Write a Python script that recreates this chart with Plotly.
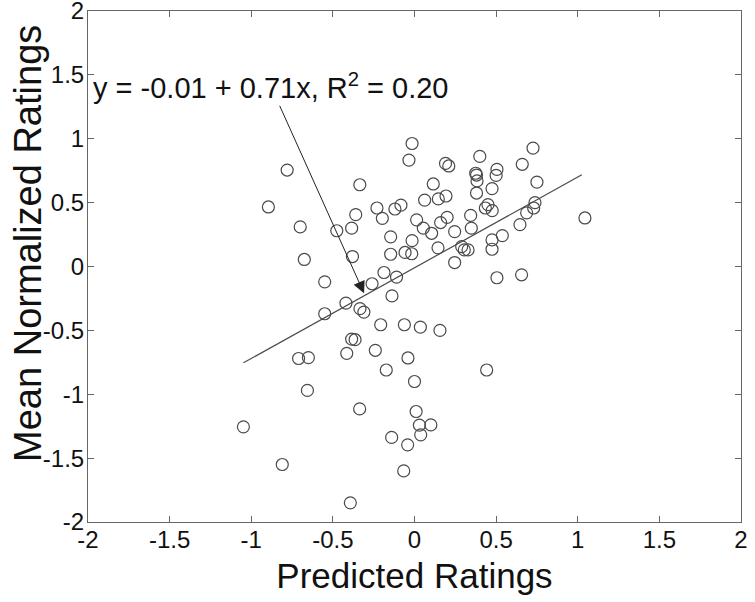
import plotly.graph_objects as go

# ── DATA ─────────────────────────────────────────────────────────────────────
predicted = [
    -0.78, -0.895, -0.70, -0.675, -0.55, -0.335, -0.36, -0.385, -0.476, -0.38,
    -0.42, -0.334, -0.31, -0.55, -0.26, -0.187, -0.11, -0.138, -0.23, -0.197,
    -0.12, -0.083, -0.146, -0.146, -0.058, -0.017, -0.015, 0.013, -0.015, -0.034,
    0.19, 0.21, 0.40, 0.726, 0.66, 0.75, 0.375, 0.38, 0.383, 0.505,
    0.50, 0.475, 0.38, 0.115, 0.062, 0.146, 0.193, 0.054, 0.105, 0.16,
    0.20, 0.246, 0.344, 0.348, 0.434, 0.45, 0.476, 0.687, 0.738, 0.73,
    0.646, 0.538, 0.475, 0.475, 0.289, 0.305, 0.328, 0.144, 0.246, 0.505,
    0.656, 1.044,
    -0.207, -0.062, 0.036, 0.156, -0.385, -0.364, -0.71, -0.65,
    -0.415, -0.24, -0.04, -0.173, 0.0, -0.656, -0.336, 0.01, -1.048, -0.14,
    -0.042, 0.03, 0.10, 0.038, -0.81, -0.066, -0.393, 0.442,
]
mean_normalized = [
    0.755, 0.466, 0.31, 0.055, -0.12, 0.64, 0.406, 0.30, 0.28, 0.078,
    -0.287, -0.33, -0.357, -0.37, -0.135, -0.047, -0.083, -0.23, 0.458, 0.377,
    0.45, 0.48, 0.232, 0.096, 0.11, 0.10, 0.203, 0.365, 0.963, 0.833,
    0.807, 0.787, 0.862, 0.927, 0.80, 0.66, 0.73, 0.716, 0.67, 0.76,
    0.713, 0.61, 0.575, 0.646, 0.52, 0.529, 0.552, 0.30, 0.26, 0.344,
    0.385, 0.273, 0.40, 0.30, 0.458, 0.484, 0.4375, 0.42, 0.50, 0.458,
    0.328, 0.242, 0.208, 0.135, 0.156, 0.13, 0.13, 0.146, 0.031, -0.088,
    -0.065, 0.38,
    -0.456, -0.456, -0.475, -0.50, -0.568, -0.573, -0.72, -0.713,
    -0.68, -0.656, -0.716, -0.81, -0.90, -0.97, -1.115, -1.135, -1.255, -1.338,
    -1.396, -1.242, -1.24, -1.318, -1.55, -1.60, -1.85, -0.81,
]

intercept = -0.01
slope = 0.71
fit_x = [-1.048, 1.025]
fit_y = [intercept + slope * x for x in fit_x]

tick_vals = [-2, -1.5, -1, -0.5, 0, 0.5, 1, 1.5, 2]
tick_text = ["-2", "-1.5", "-1", "-0.5", "0", "0.5", "1", "1.5", "2"]

FONT = "Liberation Sans, Arial, sans-serif"

fig = go.Figure()
fig.add_trace(go.Scatter(
    x=predicted, y=mean_normalized, mode="markers",
    marker=dict(symbol="circle-open", size=12, color="#4a4a4a",
                line=dict(width=1.2, color="#4a4a4a")),
    showlegend=False,
))
fig.add_trace(go.Scatter(
    x=fit_x, y=fit_y, mode="lines",
    line=dict(color="#4a4a4a", width=1.2),
    showlegend=False,
))

# arrow from equation text to the fit line
fig.add_annotation(
    x=-0.309, y=-0.21, ax=-0.83, ay=1.27,
    xref="x", yref="y", axref="x", ayref="y",
    text="", showarrow=True, arrowhead=2, arrowsize=2.4,
    arrowwidth=1, arrowcolor="#222",
)
fig.add_annotation(
    x=-1.98, y=1.41, xref="x", yref="y",
    text="y = -0.01 + 0.71x, R<sup>2</sup> = 0.20",
    showarrow=False, xanchor="left", yanchor="middle",
    font=dict(family=FONT, size=29, color="#111"),
)

# y axis title as rotated annotation (placed like the reference)
fig.add_annotation(
    x=-0.092, y=0.546, xref="paper", yref="paper",
    text="Mean Normalized Ratings", textangle=-90,
    showarrow=False, xanchor="center", yanchor="middle",
    font=dict(family=FONT, size=38, color="#111"),
)

axis_common = dict(
    range=[-2, 2], tickvals=tick_vals, ticktext=tick_text,
    showgrid=False, zeroline=False, showline=True, linecolor="#666",
    linewidth=1, mirror="ticks", ticks="inside", ticklen=6,
    tickcolor="#666", tickfont=dict(family=FONT, size=24, color="#111"),
    automargin=False, ticklabeloverflow="allow",
)

fig.update_xaxes(
    **axis_common, ticklabelstandoff=-4,
    title=dict(text="Predicted Ratings", font=dict(family=FONT, size=35, color="#111"),
               standoff=11),
)
fig.update_yaxes(**axis_common, ticklabelstandoff=-2)

fig.update_layout(
    width=755, height=602,
    paper_bgcolor="white", plot_bgcolor="white",
    margin=dict(l=88, r=14, t=11, b=80),
    font=dict(family=FONT),
)

fig.write_html("out.html", config={"displayModeBar": False},
               post_script="document.body.style.margin='0';")
